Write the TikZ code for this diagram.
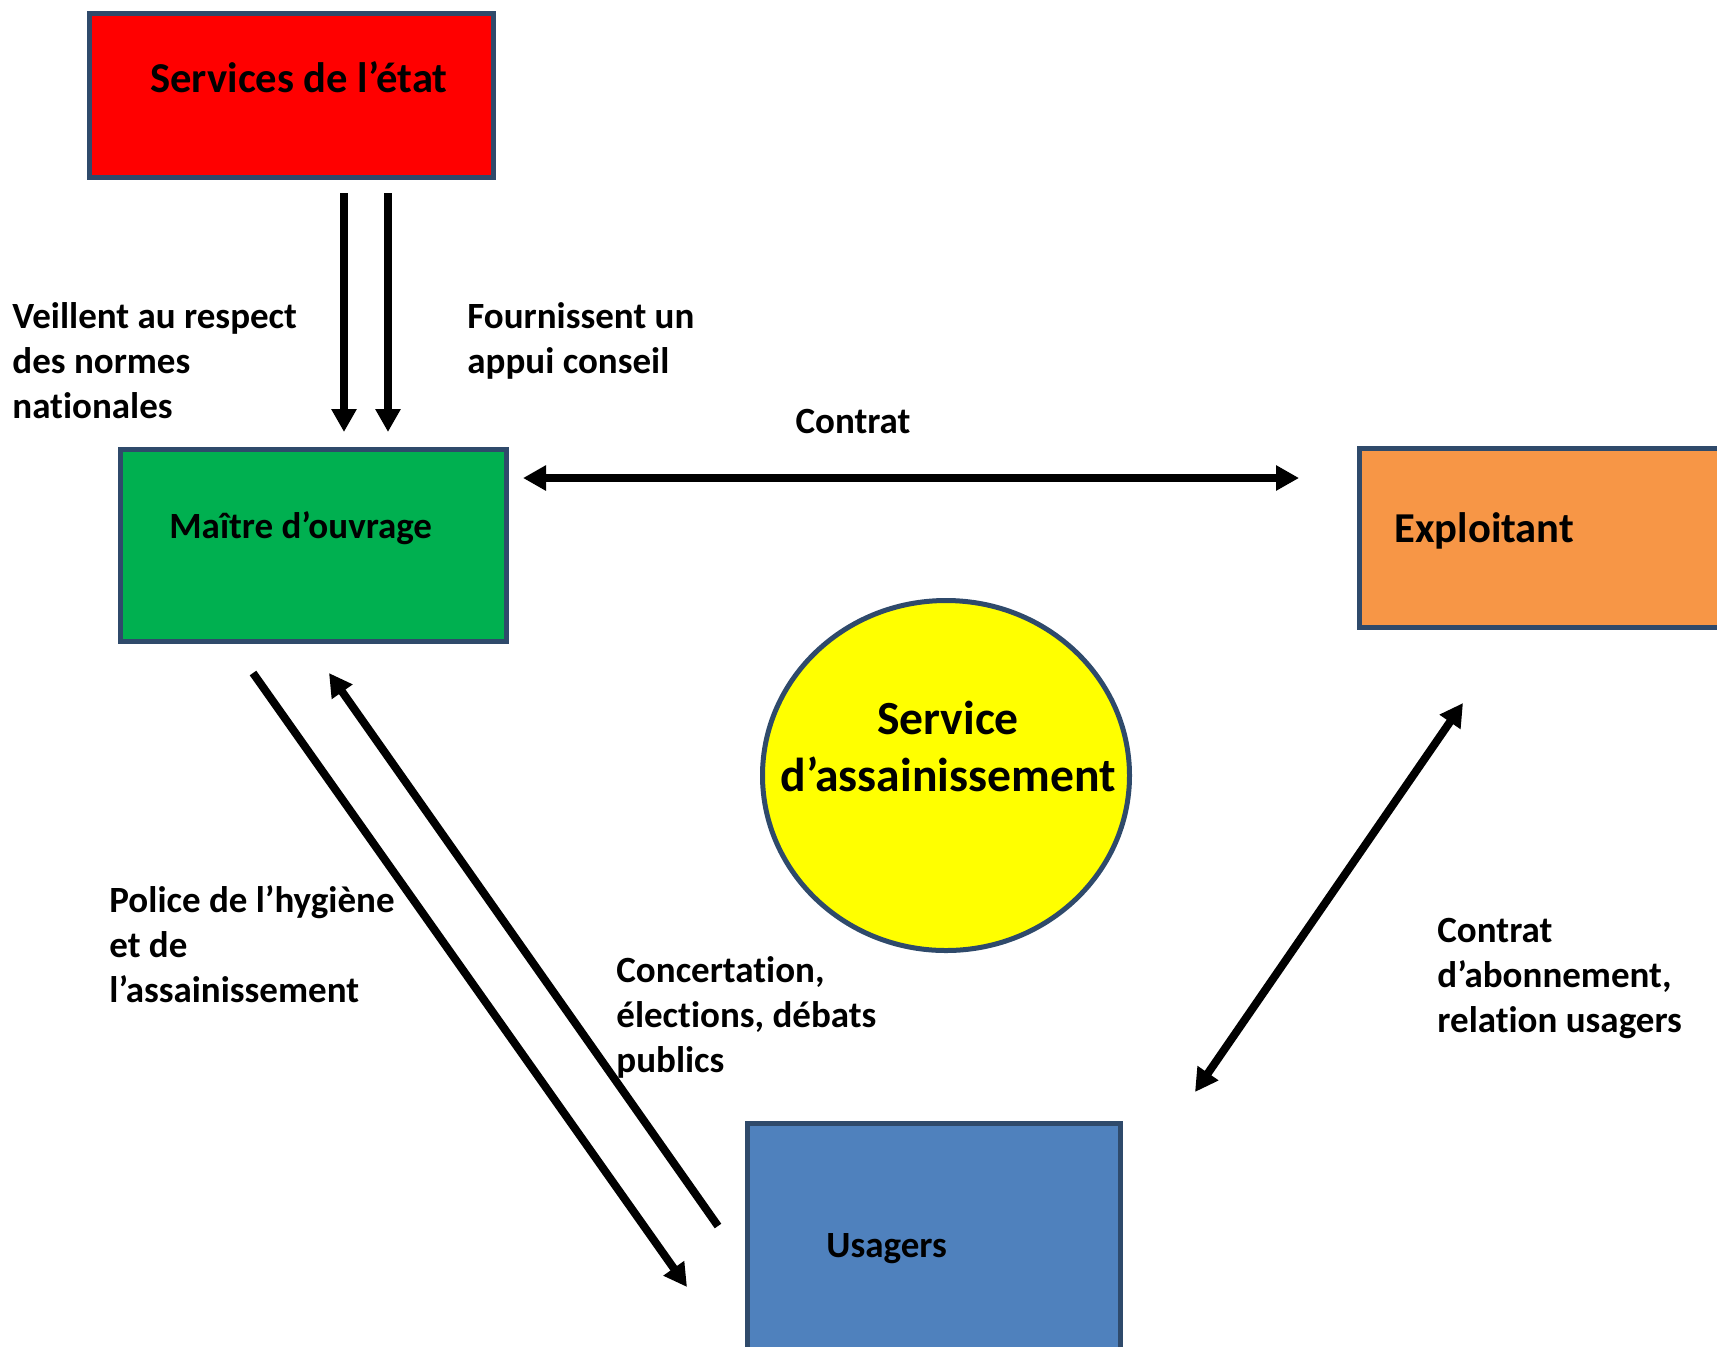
\documentclass[tikz,border=0pt]{standalone}
\usepackage{fontspec}
\setmainfont{Carlito}[Ligatures=NoCommon]
\usetikzlibrary{arrows.meta,shapes.geometric}
\definecolor{bordc}{HTML}{2F4A6B}
\definecolor{cred}{HTML}{FF0000}
\definecolor{cgreen}{HTML}{00B050}
\definecolor{corange}{HTML}{F79646}
\definecolor{cblue}{HTML}{4F81BD}
\definecolor{cyellow}{HTML}{FFFF00}
\tikzset{
  box/.style={draw=bordc, line width=2.5pt, rectangle, inner sep=0pt},
  lbl/.style={anchor=base west, inner sep=0pt, font=\bfseries\fontsize{18.5pt}{22.5pt}\selectfont},
  boxtxt/.style={anchor=base west, inner sep=0pt, font=\bfseries\fontsize{21.3pt}{25pt}\selectfont},
  smalltxt/.style={anchor=base west, inner sep=0pt, font=\bfseries\fontsize{18.5pt}{22pt}\selectfont},
  conn/.style={line width=4pt, draw=black},
  tip/.tip={Triangle[length=11.5pt,width=12pt]}
}
\newcommand{\mlines}[1]{\begin{tabular}[t]{@{}l@{}}#1\end{tabular}}
\begin{document}
\begin{tikzpicture}[x=0.5pt,y=-0.5pt]
\useasboundingbox (0,0) rectangle (1717,1346);
\clip (0,0) rectangle (1717,1346);
% boxes
\draw[box, fill=cred] (89.5,13.5) rectangle (493.5,177.5);
\node[inner sep=0pt] (etat) at (291.5,95.5) {};
\draw[box, fill=cgreen] (120.5,449.5) rectangle (506.5,641.5);
\node[inner sep=0pt] (mo) at (313.5,545.5) {};
\draw[box, fill=corange] (1359.5,448.5) rectangle (1740,627.5);
\node[inner sep=0pt] (expl) at (1540,538) {};
\draw[box, fill=cblue] (747.5,1123.5) rectangle (1120.5,1380);
\node[inner sep=0pt] (usa) at (934,1250) {};
\node[ellipse, draw=bordc, fill=cyellow, line width=2.5pt, inner sep=0pt,
      minimum width=183.5pt, minimum height=175pt] (svc) at (946,775.5) {};
% box texts
\node[boxtxt] (tetat) at (150,92) {Services de l’état};
\node[smalltxt] (tmo) at (169,538) {Maître d’ouvrage};
\node[boxtxt] (texpl) at (1394,542) {Exploitant};
\node[smalltxt] (tusa) at (826,1257) {Usagers};
\node[anchor=base, inner sep=0pt, font=\bfseries\fontsize{23.8pt}{28.5pt}\selectfont] (tsvc1) at (948,734) {Service};
\node[anchor=base, inner sep=0pt, font=\bfseries\fontsize{23.8pt}{28.5pt}\selectfont] (tsvc2) at (948,791) {d’assainissement};
% labels
\node[lbl] (l1) at (12,328) {\mlines{Veillent au respect\\des normes\\nationales}};
\node[lbl] (l2) at (467,328) {\mlines{Fournissent un\\appui conseil}};
\node[lbl, anchor=base] (l3) at (853,433) {Contrat};
\node[lbl] (l4) at (109,912) {\mlines{Police de l’hygiène\\et de\\l’assainissement}};
\node[lbl] (l5) at (616,982) {\mlines{Concertation,\\élections, débats\\publics}};
\node[lbl] (l6) at (1437,942) {\mlines{Contrat\\d’abonnement,\\relation usagers}};
% connector endpoints
\coordinate (a1s) at (344,193); \coordinate (a1e) at (344,432);
\coordinate (a2s) at (388,193); \coordinate (a2e) at (388,432);
\coordinate (hs) at (523,478); \coordinate (he) at (1299,478);
\coordinate (d1s) at (253,673); \coordinate (d1e) at (687,1287);
\coordinate (d2s) at (718,1226); \coordinate (d2e) at (329,673);
\coordinate (d3s) at (1463,703); \coordinate (d3e) at (1195,1092);
% connectors
\draw[conn, -tip] (a1s) -- (a1e);
\draw[conn, -tip] (a2s) -- (a2e);
\draw[conn, tip-tip] (hs) -- (he);
\draw[conn, -tip] (d1s) -- (d1e);
\draw[conn, -tip] (d2s) -- (d2e);
\draw[conn, tip-tip] (d3s) -- (d3e);
\end{tikzpicture}
\end{document}
